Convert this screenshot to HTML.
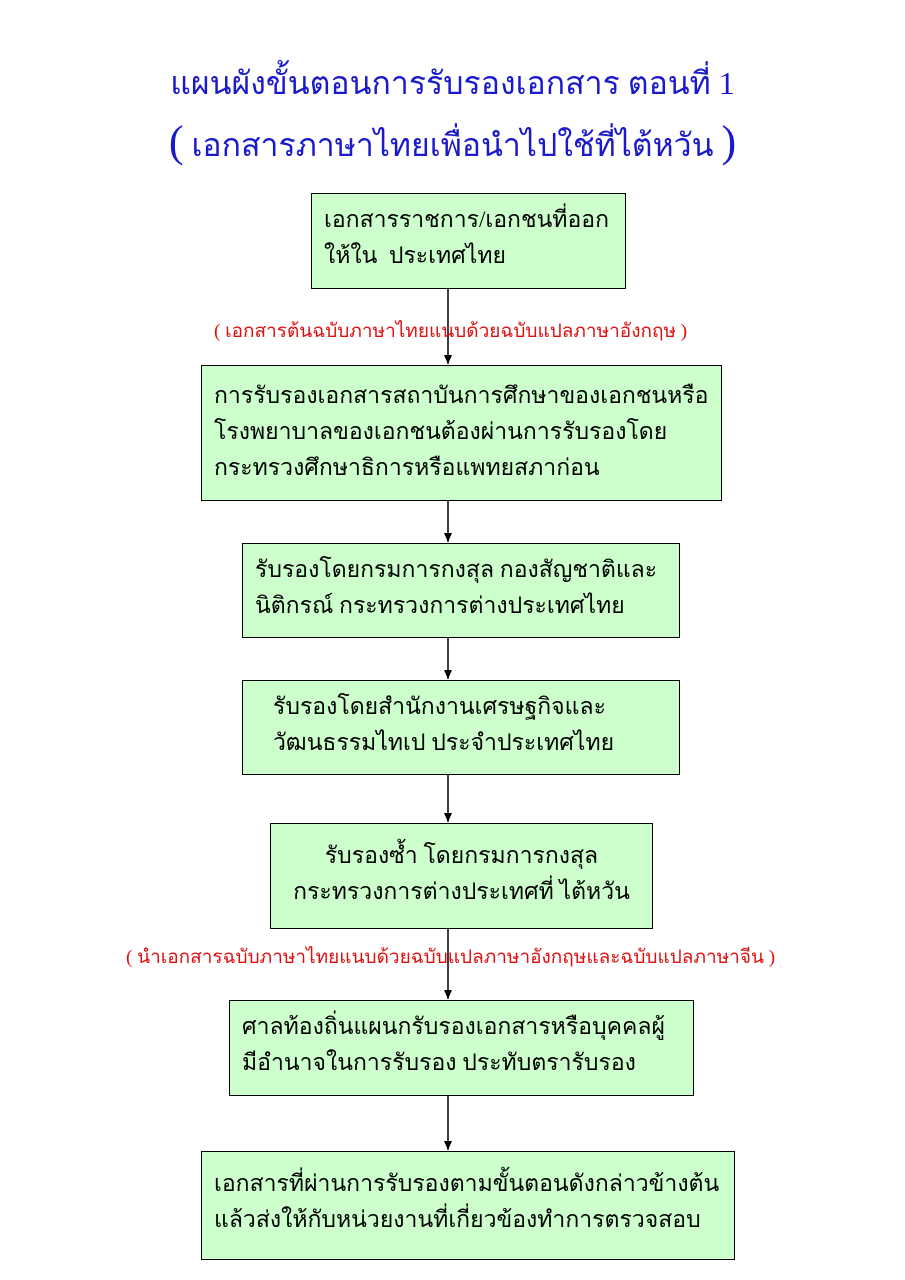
<!DOCTYPE html>
<html><head><meta charset="utf-8"><style>
body{margin:0;width:905px;height:1280px;background:#fff;position:relative;font-family:"Liberation Serif","DejaVu Serif",serif;overflow:hidden}
.t{position:absolute;left:0;width:905px;text-align:center;color:#1a1acc;font-size:32px;white-space:nowrap}
.b{position:absolute;background:#ccffcc;border:1px solid #000;box-sizing:border-box;font-size:23px;line-height:36px;padding:8px 12px;color:#000;white-space:nowrap}
.r{position:absolute;color:#e01010;font-size:19px;white-space:nowrap}
</style></head><body>
<div class="t" style="top:58px;left:0">แผนผังขั้นตอนการรับรองเอกสาร ตอนที่ 1</div>
<div class="t" style="top:116px;left:0"><span style="font-size:44px">(</span> เอกสารภาษาไทยเพื่อนำไปใช้ที่ไต้หวัน <span style="font-size:44px">)</span></div>
<svg width="905" height="1280" style="position:absolute;left:0;top:0">
<defs><marker id="a" markerWidth="10" markerHeight="10" refX="9" refY="5" orient="auto" markerUnits="userSpaceOnUse"><path d="M0,1 L9,5 L0,9z" fill="#000"/></marker></defs>
<g stroke="#000" stroke-width="1.5" marker-end="url(#a)">
<line x1="448" y1="289" x2="448" y2="364"/>
<line x1="448" y1="501" x2="448" y2="542"/>
<line x1="448" y1="638" x2="448" y2="679"/>
<line x1="448" y1="775" x2="448" y2="822"/>
<line x1="448" y1="929" x2="448" y2="999"/>
<line x1="448" y1="1096" x2="448" y2="1150"/>
</g></svg>
<div class="b" style="left:311px;top:193px;width:315px;height:96px">เอกสารราชการ/เอกชนที่ออก<br>ให้ใน &nbsp;ประเทศไทย</div>
<div class="r" style="left:214px;top:316px">( เอกสารต้นฉบับภาษาไทยแนบด้วยฉบับแปลภาษาอังกฤษ )</div>
<div class="b" style="left:201px;top:365px;width:521px;height:136px;padding-top:12px">การรับรองเอกสารสถาบันการศึกษาของเอกชนหรือ<br>โรงพยาบาลของเอกชนต้องผ่านการรับรองโดย<br>กระทรวงศึกษาธิการหรือแพทยสภาก่อน</div>
<div class="b" style="left:242px;top:543px;width:438px;height:95px">รับรองโดยกรมการกงสุล กองสัญชาติและ<br>นิติกรณ์ กระทรวงการต่างประเทศไทย</div>
<div class="b" style="left:242px;top:680px;width:438px;height:95px;padding-left:30px">รับรองโดยสำนักงานเศรษฐกิจและ<br>วัฒนธรรมไทเป ประจำประเทศไทย</div>
<div class="b" style="left:270px;top:823px;width:383px;height:106px;padding-top:14px;text-align:center">รับรองซ้ำ โดยกรมการกงสุล<br>กระทรวงการต่างประเทศที่ ไต้หวัน</div>
<div class="r" style="left:126px;top:942px">( นำเอกสารฉบับภาษาไทยแนบด้วยฉบับแปลภาษาอังกฤษและฉบับแปลภาษาจีน )</div>
<div class="b" style="left:229px;top:1000px;width:465px;height:96px">ศาลท้องถิ่นแผนกรับรองเอกสารหรือบุคคลผู้<br>มีอำนาจในการรับรอง ประทับตรารับรอง</div>
<div class="b" style="left:201px;top:1151px;width:534px;height:109px;padding-top:14px">เอกสารที่ผ่านการรับรองตามขั้นตอนดังกล่าวข้างต้น<br>แล้วส่งให้กับหน่วยงานที่เกี่ยวข้องทำการตรวจสอบ</div>
</body></html>
